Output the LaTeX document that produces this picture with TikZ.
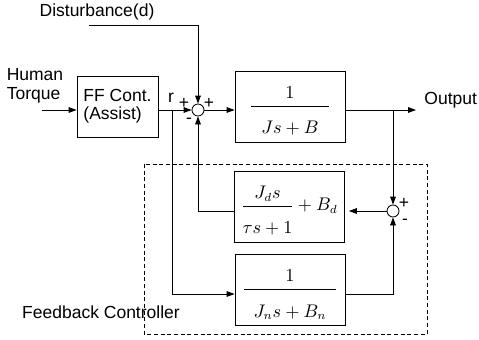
\documentclass[tikz,border=0pt]{standalone}
\usepackage{amsmath}
\usepackage[no-math]{fontspec}
\setmainfont{Liberation Sans}
\usetikzlibrary{arrows.meta,positioning}
\tikzset{
  lbl/.style  ={font=\fontsize{10.5}{11.5}\selectfont,inner sep=0pt},
  sgn/.style  ={font=\fontsize{10.5}{11.5}\selectfont,inner sep=0pt},
  ffbox/.style={draw,align=left,font=\fontsize{10.5}{11}\selectfont,
                minimum width=48.6pt,minimum height=36.6pt,inner sep=0pt},
  blk/.style  ={draw,font=\fontsize{10.5}{12}\selectfont,
                minimum width=66pt,minimum height=42.6pt,inner sep=0pt,
                text height=20pt,text depth=15pt},
  sum/.style  ={draw,circle,minimum size=7.2pt,inner sep=0pt},
  ar/.style   ={-{Triangle[length=4.8pt,width=3.4pt]}},
  fbframe/.style={dashed,dash pattern=on 2.4pt off 1.6pt},
}
\newcommand{\blkfrac}[3]{$\dfrac{#2}{\rule{0pt}{15pt}\makebox[#1]{$#3$}}$}

\begin{document}
\begin{tikzpicture}[x=0.6pt,y=-0.6pt,line width=0.5pt]
\useasboundingbox (0,0) rectangle (479,340);
\node[lbl] (dlbl) at (97,12) {Disturbance(d)};
\coordinate (d0) at (89,25);
\node[lbl,align=left] (hlbl) at (35,86) {Human\\Torque};
\coordinate (in) at (42,110);
\node[ffbox] (ff) at (117.5,106.5) {FF Cont.\\(Assist)};
\node[sum] (s1) at (198,110) {};
\node[blk] (plant) at (290,106.5) {\blkfrac{47pt}{1}{Js+B}};
\coordinate (br1) at (172,110);
\coordinate (br2) at (393,110);
\coordinate (out) at (416,110);
\node[lbl,anchor=west] (olbl) at (424,100) {Output};
\node[sum] (s2) at (393,211) {};
\node[blk] (jd) at (289.5,206.5)
  {$\dfrac{J_ds}{\rule{0pt}{15pt}\makebox[29pt]{$\tau s+1$}}+B_d$};
\node[blk] (jn) at (290,290) {\blkfrac{55pt}{1}{J_ns+B_n}};
\node[lbl] (fblbl) at (101,312) {Feedback Controller};
\draw[fbframe] (144,164) rectangle (427,334);
\node[sgn] (rl) at (171,98) {r};
\node[sgn] (p1a) at (184,103) {+};
\node[sgn] (p1b) at (209,103) {+};
\node[sgn] (m1) at (189,121) {-};
\node[sgn] (p2) at (404,203) {+};
\node[sgn] (m2) at (405,222) {-};
\draw[ar] (in) -- (ff.west |- in);
\draw[ar] (ff.east |- s1) -- (s1.west);
\draw[ar] (d0) -| (s1.north);
\draw[ar] (s1.east) -- (s1 -| plant.west);
\draw[ar] (s1 -| plant.east) -- (out);
\draw[ar] (br2) -- (s2.north);
\draw[ar,shorten >=2.4pt] (s2.west) -- (s2 -| jd.east);
\draw[ar] (s2 -| jd.west) -| (s1.south);
\draw[ar] (br1) |- ([yshift=-2.4pt]jn.west);
\draw[ar] ([yshift=-2.4pt]jn.east) -| (s2.south);
\end{tikzpicture}
\end{document}
